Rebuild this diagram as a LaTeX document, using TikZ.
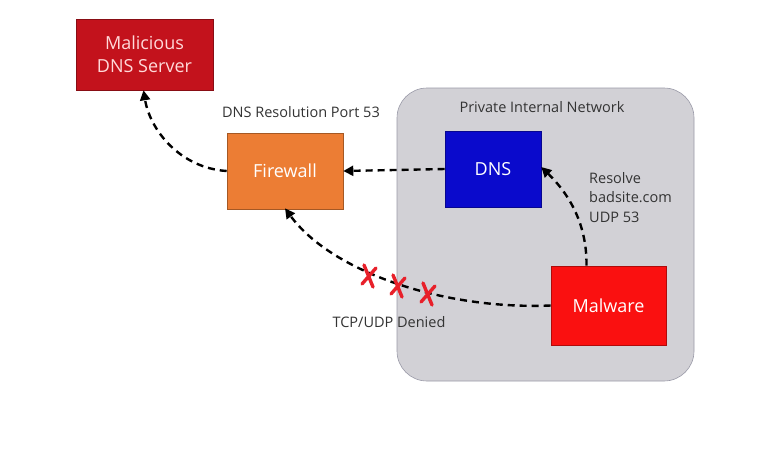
\documentclass[tikz,border=0pt]{standalone}
\usepackage{fontspec}
\setmainfont{Open Sans}
\usetikzlibrary{arrows.meta}
\definecolor{malred}{HTML}{C3121C}
\definecolor{fworange}{HTML}{EC7D34}
\definecolor{dnsblue}{HTML}{0A0ACC}
\definecolor{mwred}{HTML}{FA1010}
\definecolor{netgray}{HTML}{D2D1D6}
\definecolor{netborder}{HTML}{9A9AA8}
\definecolor{txtgray}{HTML}{333333}
\definecolor{xred}{HTML}{E8202A}
\begin{document}
\begin{tikzpicture}[x=1pt,y=-1pt,
  box/.style={draw=#1!70!black, fill=#1, line width=0.6pt, text=white, font=\fontsize{18}{23}\selectfont, align=center, inner sep=0pt},
  lbl/.style={text=txtgray, font=\fontsize{14.5}{18}\selectfont, inner sep=0pt},
  flow/.style={line width=2.4pt, dash pattern=on 7pt off 5pt, -{Triangle[length=10pt,width=10pt]}},
  xstroke/.style={draw=xred, line width=3.4pt, line cap=round}]
\useasboundingbox (0,0) rectangle (783,448);
\fill[white] (0,0) rectangle (783,448);
% private network
\node[draw=netborder, fill=netgray, rounded corners=30pt, line width=0.6pt, minimum width=297pt, minimum height=293pt, inner sep=0pt] (net) at (545.5,234.5) {};
\node[lbl] (netlbl) at (542,107) {Private Internal Network};
% boxes
\node[box=malred, minimum width=137pt, minimum height=71pt, text=white!85!red] (mal) at (144.5,54.5) {Malicious\\DNS Server};
\node[box=fworange, minimum width=116pt, minimum height=76pt] (fw) at (285,171) {Firewall};
\node[box=dnsblue, minimum width=96pt, minimum height=76pt] (dns) at (493,169) {DNS};
\node[box=mwred, minimum width=115pt, minimum height=79pt] (mw) at (608.5,305.5) {Malware};
% labels
\node[lbl] (port) at (301,112) {DNS Resolution Port 53};
\node[lbl, align=left, anchor=north west, font=\fontsize{14.5}{19.5}\selectfont] (res) at (589,172) {Resolve\\badsite.com\\UDP 53};
\node[lbl] (deny) at (389,322) {TCP/UDP Denied};
% connectors
\draw[flow] (fw.west) .. controls (180,168) and (150,130) .. ([xshift=-1pt]mal.south);
\draw[flow] (dns.west) -- (fw.east);
\draw[flow] ([xshift=-22pt]mw.north) .. controls (587,225) and (570,195) .. ([yshift=2pt]dns.east);
\draw[flow] (mw.west) .. controls (440,310) and (330,270) .. ([yshift=1pt]fw.south);
% red X marks
\foreach \n/\cx/\cy in {x1/369/276, x2/398/286, x3/428/294}{
  \coordinate (\n) at (\cx,\cy);
  \draw[xstroke] ([shift={(-5,-11)}]\n) -- ([shift={(4,11)}]\n);
  \draw[xstroke] ([shift={(7,-8)}]\n) -- ([shift={(-7,8)}]\n);
}
\end{tikzpicture}
\end{document}
